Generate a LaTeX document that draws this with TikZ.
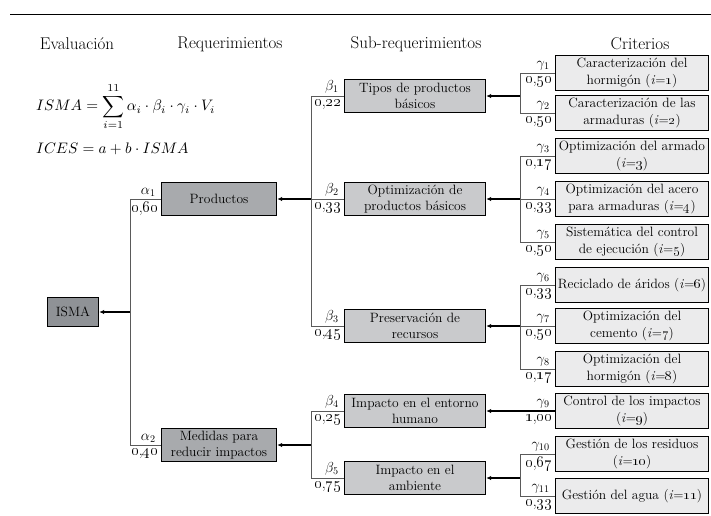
\RequirePackage{fix-cm}
\documentclass[tikz,border=0pt]{standalone}
\usepackage{graphicx}
\usetikzlibrary{arrows.meta}
\definecolor{cIsma}{HTML}{8F9296}
\definecolor{cReq}{HTML}{A8AAAD}
\definecolor{cSub}{HTML}{C9CACC}
\definecolor{cCrit}{HTML}{EBEBEC}
\definecolor{busgray}{HTML}{5A5A5A}
\newcommand\ii[1]{(\textit{i}=\oldstylenums{#1})}
\newcommand\wt[2]{\oldstylenums{#1},\oldstylenums{#2}}
\begin{document}
\begin{tikzpicture}[x=1pt,y=-1pt,
  box/.style={draw=black, line width=1.4pt, align=center, inner sep=0.5pt,
    font=\fontsize{13.5}{16.5}\selectfont},
  ismabox/.style={box, fill=cIsma, minimum width=51pt, minimum height=29pt},
  reqbox/.style={box, fill=cReq, minimum width=115pt, minimum height=33pt},
  subbox/.style={box, fill=cSub, minimum width=141pt, minimum height=33pt},
  critbox/.style={box, fill=cCrit, minimum width=153pt, minimum height=35pt},
  head/.style={font=\fontsize{17}{19}\selectfont},
  sym/.style={inner sep=0pt, font=\fontsize{14.5}{14.5}\selectfont},
  val/.style={inner sep=0pt, font=\fontsize{16}{16}\selectfont},
  busline/.style={draw=busgray, line width=0.8pt},
  feed/.style={draw=black, line width=1.1pt, -{Latex[length=5pt,width=4.5pt]}}
]
\useasboundingbox (0,0) rectangle (711,515);
% top rule
\coordinate (ruleL) at (10,14);
\coordinate (ruleR) at (711,14);
\draw[line width=0.9pt] (ruleL) -- (ruleR);
% headers
\node[head] (hEval) at (77,44) {Evaluación};
\node[head] (hReq) at (230,44) {Requerimientos};
\node[head] (hSub) at (416,44) {Sub-requerimientos};
\node[head] (hCrit) at (640,44) {Criterios};
% formulas
\node[anchor=west, inner sep=0pt] (f1) at (36,107)
  {\scalebox{1.52}{$\displaystyle ISMA=\sum_{i=1}^{11}\alpha_i\cdot\beta_i\cdot\gamma_i\cdot V_i$}};
\node[anchor=west, inner sep=0pt] (f2) at (36,149)
  {\scalebox{1.52}{$ICES=a+b\cdot ISMA$}};
% boxes
\node[ismabox] (isma) at (73,312) {ISMA};
\node[reqbox] (prod) at (219,199) {Productos};
\node[reqbox] (med) at (219,445) {Medidas para\\reducir impactos};
\node[subbox] (tipos) at (415,96) {Tipos de productos\\básicos};
\node[subbox] (optim) at (415,199) {Optimización de\\productos básicos};
\node[subbox] (pres) at (415,326) {Preservación de\\recursos};
\node[subbox] (imph) at (415,411) {Impacto en el entorno\\humano};
\node[subbox] (impa) at (415,478) {Impacto en el\\ambiente};
\node[critbox] (c1) at (632,73) {Caracterización del\\hormigón \ii{1}};
\node[critbox] (c2) at (632,113) {Caracterización de las\\armaduras \ii{2}};
\node[critbox] (c3) at (632,156) {Optimización del armado\\\ii{3}};
\node[critbox] (c4) at (632,199) {Optimización del acero\\para armaduras \ii{4}};
\node[critbox] (c5) at (632,242) {Sistemática del control\\de ejecución \ii{5}};
\node[critbox] (c6) at (632,285) {Reciclado de áridos \ii{6}};
\node[critbox] (c7) at (632,326) {Optimización del\\cemento \ii{7}};
\node[critbox] (c8) at (632,369) {Optimización del\\hormigón \ii{8}};
\node[critbox] (c9) at (632,411) {Control de los impactos\\\ii{9}};
\node[critbox] (c10) at (632,454) {Gestión de los residuos\\\ii{10}};
\node[critbox] (c11) at (632,496) {Gestión del agua \ii{11}};
% alpha bus
\coordinate (aT) at (130,199);
\coordinate (aB) at (130,445);
\coordinate (aM) at (130,312);
\draw[busline] (prod.west) -- (aT) -- (aB) -- (med.west);
\draw[feed] (aM) -- (isma.east);
% beta bus 1
\coordinate (b1T) at (311,96);
\coordinate (b1B) at (311,326);
\coordinate (b1M) at (311,199);
\draw[busline] (tipos.west) -- (b1T) -- (b1B) -- (pres.west);
\draw[busline] (b1M) -- (optim.west);
\draw[feed] (b1M) -- (prod.east);
% beta bus 2
\coordinate (b2T) at (311,411);
\coordinate (b2B) at (311,478);
\coordinate (b2M) at (311,445);
\draw[busline] (imph.west) -- (b2T) -- (b2B) -- (impa.west);
\draw[feed] (b2M) -- (med.east);
% gamma bus 1
\coordinate (g1T) at (520,73);
\coordinate (g1B) at (520,113);
\coordinate (g1M) at (520,96);
\draw[busline] (c1.west) -- (g1T) -- (g1B) -- (c2.west);
\draw[feed] (g1M) -- (tipos.east);
% gamma bus 2
\coordinate (g2T) at (520,156);
\coordinate (g2B) at (520,242);
\coordinate (g2M) at (520,199);
\draw[busline] (c3.west) -- (g2T) -- (g2B) -- (c5.west);
\draw[busline] (g2M) -- (c4.west);
\draw[feed] (g2M) -- (optim.east);
% gamma bus 3
\coordinate (g3T) at (520,285);
\coordinate (g3B) at (520,369);
\coordinate (g3M) at (520,326);
\draw[busline] (c6.west) -- (g3T) -- (g3B) -- (c8.west);
\draw[busline] (g3M) -- (c7.west);
\draw[feed] (g3M) -- (pres.east);
% gamma 9
\draw[feed] (c9.west) -- (imph.east);
% gamma bus 5
\coordinate (g5T) at (520,454);
\coordinate (g5B) at (520,496);
\coordinate (g5M) at (520,478);
\draw[busline] (c10.west) -- (g5T) -- (g5B) -- (c11.west);
\draw[feed] (g5M) -- (impa.east);
% weight labels
\tikzset{
  symat/.style={sym, anchor=south east, xshift=-5pt, yshift=2.5pt},
  valat/.style={val, anchor=north east, xshift=-2pt, yshift=-3.5pt}}
\node[symat] (la1) at (prod.west) {$\alpha_1$};
\node[valat] (va1) at (prod.west) {\wt{0}{60}};
\node[symat] (la2) at (med.west) {$\alpha_2$};
\node[valat] (va2) at (med.west) {\wt{0}{40}};
\node[symat] (lb1) at (tipos.west) {$\beta_1$};
\node[valat] (vb1) at (tipos.west) {\wt{0}{22}};
\node[symat] (lb2) at (optim.west) {$\beta_2$};
\node[valat] (vb2) at (optim.west) {\wt{0}{33}};
\node[symat] (lb3) at (pres.west) {$\beta_3$};
\node[valat] (vb3) at (pres.west) {\wt{0}{45}};
\node[symat] (lb4) at (imph.west) {$\beta_4$};
\node[valat] (vb4) at (imph.west) {\wt{0}{25}};
\node[symat] (lb5) at (impa.west) {$\beta_5$};
\node[valat] (vb5) at (impa.west) {\wt{0}{75}};
\node[symat] (lg1) at (c1.west) {$\gamma_1$};
\node[valat] (vg1) at (c1.west) {\wt{0}{50}};
\node[symat] (lg2) at (c2.west) {$\gamma_2$};
\node[valat] (vg2) at (c2.west) {\wt{0}{50}};
\node[symat] (lg3) at (c3.west) {$\gamma_3$};
\node[valat] (vg3) at (c3.west) {\wt{0}{17}};
\node[symat] (lg4) at (c4.west) {$\gamma_4$};
\node[valat] (vg4) at (c4.west) {\wt{0}{33}};
\node[symat] (lg5) at (c5.west) {$\gamma_5$};
\node[valat] (vg5) at (c5.west) {\wt{0}{50}};
\node[symat] (lg6) at (c6.west) {$\gamma_6$};
\node[valat] (vg6) at (c6.west) {\wt{0}{33}};
\node[symat] (lg7) at (c7.west) {$\gamma_7$};
\node[valat] (vg7) at (c7.west) {\wt{0}{50}};
\node[symat] (lg8) at (c8.west) {$\gamma_8$};
\node[valat] (vg8) at (c8.west) {\wt{0}{17}};
\node[symat] (lg9) at (c9.west) {$\gamma_9$};
\node[valat] (vg9) at (c9.west) {\wt{1}{00}};
\node[symat] (lg10) at (c10.west) {$\gamma_{10}$};
\node[valat] (vg10) at (c10.west) {\wt{0}{67}};
\node[symat] (lg11) at (c11.west) {$\gamma_{11}$};
\node[valat] (vg11) at (c11.west) {\wt{0}{33}};
\end{tikzpicture}
\end{document}
